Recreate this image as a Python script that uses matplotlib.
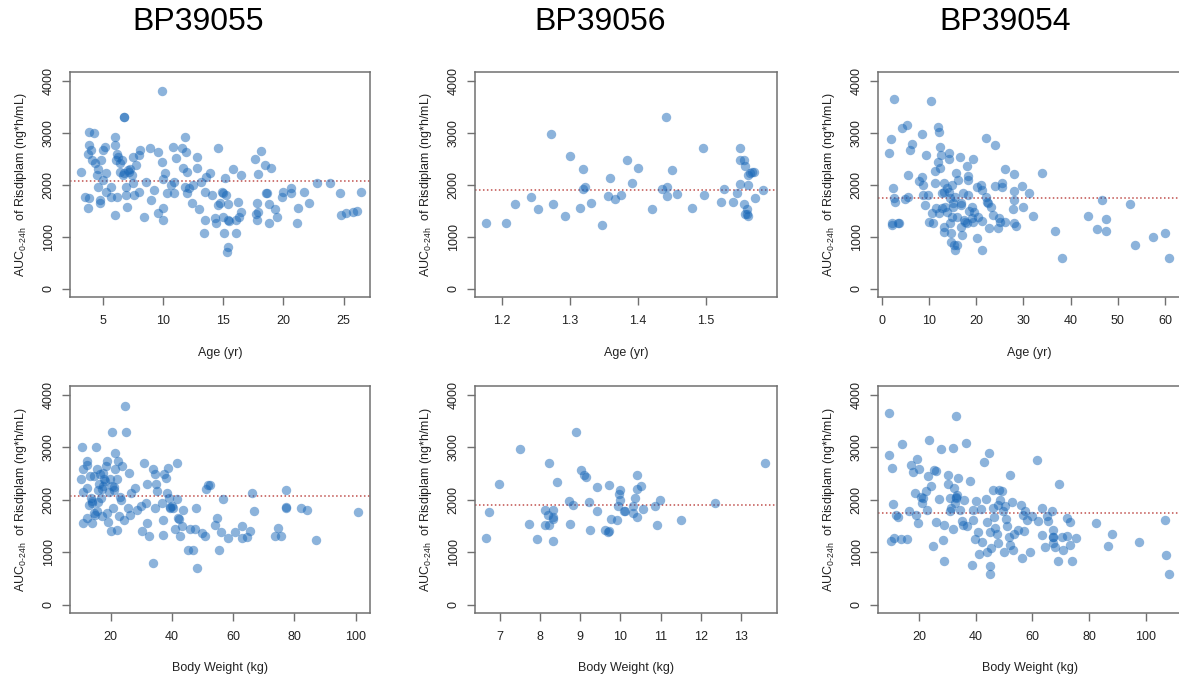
import matplotlib; matplotlib.use('Agg')
import matplotlib.pyplot as plt
plt.rcParams['font.family']=['Liberation Sans','DejaVu Sans']
plt.rcParams['mathtext.fontset']='custom'; plt.rcParams['mathtext.rm']='Liberation Sans'

studies=['BP39055','BP39056','BP39054']
ref_auc=[2070,1905,1740]
# BP39055 - age
age55=[3.2,3.5,3.9,3.8,3.9,4.3,3.9,4.0,3.8,4.1,4.4,4.5,4.6,4.6,4.8,4.8,4.9,5.05,5.2,5.0,5.3,5.3,5.7,5.7,6.0,6.0,6.0,6.1,6.2,6.2,6.3,6.4,6.4,6.6,6.7,6.8,6.8,6.8,6.9,6.9,7.0,7.1,7.2,7.3,7.4,7.5,7.5,7.6,7.8,8.0,8.1,8.0,8.4,8.6,8.9,9.0,9.3,9.6,9.6,9.9,9.95,10.0,10.0,10.0,10.2,10.3,10.8,10.7,10.9,10.9,11.1,11.6,11.7,11.8,11.8,12.0,11.9,12.0,12.2,12.4,12.5,12.8,12.8,13.0,13.2,13.4,13.5,13.5,13.55,13.9,14.1,14.3,14.4,14.6,14.6,14.7,14.9,15.0,15.0,15.1,15.15,15.2,15.3,15.4,15.4,15.4,15.45,15.8,16.1,16.1,16.2,16.3,16.45,16.5,17.6,17.7,17.8,17.8,17.9,17.9,18.1,18.5,18.55,18.6,18.8,18.8,18.95,19.3,19.5,19.85,20.0,20.6,20.6,21.1,21.2,21.7,22.1,22.8,23.9,24.7,24.75,25.2,25.75,26.1,26.4]
auc55a=[2250,1770,1750,1560,3020,3000,2760,2670,2600,2470,2410,2190,2310,1960,1700,1640,2470,2670,2730,2090,2220,1865,1770,1960,2910,2760,1417,2470,1770,2600,2540,2410,2250,2470,2190,2220,3310,3300,1960,1800,1580,2280,2250,2310,2190,2540,2025,1800,2380,2570,2670,1865,1385,2060,2700,1700,1900,1450,2635,3810,2440,1545,1320,2120,2220,1833,2730,1995,2060,1833,2506,2700,2314,2923,1960,2250,2635,1833,1930,1641,1995,2538,2314,1532,2058,1064,1865,1320,2154,2218,1801,1352,1270,1609,2700,1641,1865,1833,1385,1077,2122,1801,711,808,1628,1320,1310,2301,1320,1064,1673,1385,1481,2186,2487,1436,1641,1320,1481,2205,2647,2378,1833,1840,1628,1256,2314,1526,1385,1769,1852,1930,1833,1270,1545,1852,1654,2026,2038,1846,1417,1449,1468,1500,1852]
# BP39055 - body weight
wt55=[10.3,10.5,10.9,11.1,11.1,12.2,12.4,12.4,12.2,13.3,13.5,13.8,13.9,14.7,14.9,15.1,15.4,15.6,16.0,16.5,16.7,17.1,17.4,17.6,17.9,18.5,18.7,18.9,19.2,19.8,20.0,20.3,20.4,20.9,21.2,21.4,21.4,22.0,22.0,22.5,22.6,23.3,23.8,24.5,24.7,25.0,25.5,26.1,26.3,26.5,27.9,28.5,29.8,30.1,31.0,31.4,31.8,31.8,32.4,33.9,33.7,34.5,34.5,34.8,35.2,36.6,37.0,37.2,37.4,38.1,38.3,38.8,39.2,39.4,39.5,39.9,40.5,41.0,41.5,41.8,42.1,42.3,42.6,43.2,43.5,45.4,45.9,47.0,47.5,47.9,48.1,49.7,50.8,51.0,51.9,52.4,54.1,54.6,55.5,55.9,56.8,58.4,60.6,62.8,62.8,64.4,65.5,66.0,66.8,73.6,74.5,75.6,77.1,77.1,77.2,82.1,84.0,87.0,100.8,14.5,15.8,16.3,17.0,18.0,19.5,21.0,23.0,14.0,13.0]
auc55w=[2400,3000,2580,2144,1555,2740,2656,2227,1651,2451,2035,1939,1555,2451,1715,3008,2579,1779,2195,2483,2035,1683,2259,2515,2387,2643,1747,2739,1574,2387,1395,3296,2259,1843,2195,2899,2579,2387,1414,2739,1683,2003,2643,1619,3795,3296,1843,2515,1715,2131,2227,1811,1888,1395,2707,1939,1555,2310,1318,2579,800,2483,1843,2310,2163,1939,1619,1331,2483,2419,2131,2611,2035,1843,1860,1875,1843,1440,2022,2707,1651,1640,1312,1491,1798,1043,1440,1043,1440,1843,704,1363,1312,2208,2291,2291,1510,1651,1043,1376,2016,1267,1376,1491,1267,1299,1395,2131,1792,1312,1459,1312,2195,1843,1860,1843,1811,1235,1760,1750,1950,2300,2200,2350,2150,2250,2050,1980,1900]
# BP39056 - age
age56=[1.177,1.207,1.219,1.243,1.254,1.273,1.276,1.293,1.301,1.315,1.320,1.320,1.323,1.331,1.347,1.356,1.359,1.367,1.375,1.384,1.392,1.400,1.420,1.436,1.441,1.442,1.442,1.450,1.458,1.480,1.496,1.497,1.522,1.526,1.540,1.546,1.549,1.549,1.549,1.555,1.555,1.557,1.557,1.560,1.560,1.561,1.562,1.562,1.565,1.567,1.570,1.571,1.584]
auc56a=[1269,1256,1628,1756,1526,2968,1628,1404,2558,1545,2295,1910,1949,1641,1231,1788,2122,1718,1801,2474,2038,2314,1532,1917,3308,1961,1788,2282,1814,1545,2699,1801,1673,1910,1673,1833,2699,2474,2006,2474,1628,2359,1436,1436,1526,1397,2186,1994,2218,2237,2250,1737,1897]
# BP39056 - body weight
wt56=[6.65,6.73,6.98,7.50,7.73,7.92,8.22,8.13,8.19,8.11,8.22,8.32,8.32,8.33,8.32,8.42,8.72,8.75,8.82,8.88,9.02,9.08,9.13,9.22,9.23,9.42,9.42,9.61,9.71,9.70,9.72,9.77,9.92,9.93,9.96,10.0,10.0,10.1,10.11,10.31,10.31,10.36,10.4,10.42,10.42,10.52,10.55,10.87,10.92,10.98,11.5,12.35,13.6]
auc56w=[1267,1760,2310,2963,1542,1248,2694,1811,1715,1510,1517,1811,1664,1632,1222,2342,1971,1536,1907,3296,2560,2464,2438,1952,1427,1792,2240,1427,1395,1390,2278,1632,1619,1888,2118,2195,2003,1792,1795,1888,1747,2035,2464,2214,1664,2272,1824,1888,1510,1990,1619,1939,2694]
# BP39054 - age
age54=[1.55,1.98,2.1,2.1,2.47,2.54,2.6,2.8,3.5,3.7,4.2,4.9,5.3,5.6,5.6,6.1,6.35,7.8,8.5,8.6,8.8,8.7,9.2,9.4,9.9,10.1,10.4,10.6,10.9,11.2,11.3,11.5,11.9,12.0,12.1,12.2,12.35,12.35,12.5,12.7,12.7,13.1,13.1,13.2,13.4,13.3,13.8,13.9,14.25,14.3,14.3,14.5,14.5,14.6,14.6,14.8,15.0,15.2,15.2,15.4,15.5,15.6,15.7,15.9,16.0,16.2,16.6,16.7,16.9,16.9,17.1,17.3,17.4,17.6,18.0,18.1,18.3,18.35,18.35,18.5,19.3,19.1,19.1,19.3,19.6,20.1,20.25,20.5,21.0,21.2,21.2,21.2,22.2,22.2,22.4,22.6,22.7,23.1,23.5,23.9,24.1,24.7,24.9,25.0,25.5,25.5,26.1,26.1,28.0,28.0,28.0,27.9,28.1,28.4,29.8,30.0,31.1,32.0,33.9,36.8,38.1,43.8,45.7,46.7,47.6,47.6,52.6,53.6,57.4,60.1,60.8]
auc54a=[2615,2872,1269,1224,1929,3660,1737,1660,1256,1256,3083,1718,3147,2186,1769,2667,2782,2077,2974,2154,1994,1801,1609,2570,1801,1288,3615,1449,1256,2263,2026,1545,2442,3102,1462,3019,2718,2314,2570,1833,1545,2026,1192,1865,1577,1083,1929,1481,2603,2487,1865,1737,1256,1064,904,1385,1994,1641,1577,840,1769,744,2231,1385,840,2090,2538,1609,1641,1192,1032,1833,1320,1288,2359,1256,2167,2090,1801,1500,2487,1577,1352,1288,1481,1961,968,1385,1994,1897,1301,744,1769,2891,1673,1641,1160,1577,1417,2763,1974,1160,1352,1288,2038,1961,2301,1288,2199,1878,1705,1532,1269,1211,1974,1564,1833,1397,2218,1115,583,1397,1141,1705,1346,1115,1622,840,1000,1064,583]
# BP39054 - body weight
wt54=[9.4,9.4,10.0,10.3,10.8,11.0,11.7,12.3,13.5,13.9,15.5,16.4,16.9,17.9,18.5,18.7,19.1,19.4,20.0,20.5,20.8,21.2,22.2,22.6,22.9,23.5,24.1,25.0,25.3,25.8,25.9,26.8,27.5,28.5,28.8,28.8,30.0,30.0,30.8,30.8,31.2,32.0,32.0,32.4,32.6,32.9,33.0,33.2,33.0,33.8,34.4,35.0,35.6,35.9,36.4,36.7,37.9,38.5,38.9,39.1,39.7,40.0,40.9,41.2,41.8,42.3,43.0,43.5,43.8,44.1,44.8,45.0,45.0,45.0,45.4,46.2,46.2,46.4,46.8,47.4,47.7,47.9,48.3,48.5,49.1,49.5,50.0,50.3,50.7,50.9,51.7,52.1,52.1,52.7,53.0,53.6,54.8,55.9,56.4,56.8,57.0,57.4,58.2,59.2,59.7,61.5,62.1,63.3,63.3,64.5,65.0,65.4,66.8,67.1,67.2,67.4,67.4,68.0,69.2,69.5,70.4,70.7,72.1,72.1,73.1,73.3,74.1,75.3,82.5,86.6,88.0,97.8,106.9,107.3,108.3]
auc54w=[3648,2848,1216,2611,1926,1280,1715,1664,1248,3072,1248,1779,2656,2528,2131,1715,2771,1555,2592,2048,1939,2035,2176,1798,2451,3136,2259,1120,2566,2547,1574,2016,2963,1235,1510,838,2464,2304,2035,1792,1843,2995,1446,2227,1939,2035,2060,2099,3590,2406,1811,1587,1523,2003,3091,1491,2355,755,1619,1811,1248,1971,1376,966,1824,1203,2720,2022,1574,1011,2886,1376,742,582,1075,2195,1843,1664,1459,1344,1907,1171,2195,2003,2163,1779,1011,1888,1632,1504,1299,2470,1139,1952,1043,1350,1414,1907,896,1715,1395,1779,1619,1011,1683,2758,1587,1843,1331,1107,1683,1587,1779,1299,1290,1427,1171,1107,832,2304,1299,1043,1312,1651,1568,1139,832,1280,1555,1126,1350,1190,1619,947,582]

xs_top=[age55,age56,age54]; ys_top=[auc55a,auc56a,auc54a]
xs_bot=[wt55,wt56,wt54]; ys_bot=[auc55w,auc56w,auc54w]
xt_top=[[5,10,15,20,25],[1.2,1.3,1.4,1.5],[0,10,20,30,40,50,60]]
xt_bot=[[20,40,60,80,100],[7,8,9,10,11,12,13],[20,40,60,80,100]]
xl_top=[(2.29,27.18),(1.161,1.604),(-0.78,63.4)]
xl_bot=[(6.7,104.7),(6.375,13.9),(5.4,112.5)]

W,H=1179,677
fig=plt.figure(figsize=(W/100,H/100),dpi=100)
lefts=[70,475,878]; widths=[300,302,303]
tops=[(72,297),(386,613)]
ylab=r'AUC$_{\mathregular{0\text{-}24h}}$  of Risdiplam (ng*h/mL)'
gray='#707070'
for r,(xs,ys,xts,xls,xlab) in enumerate([(xs_top,ys_top,xt_top,xl_top,'Age (yr)'),(xs_bot,ys_bot,xt_bot,xl_bot,'Body Weight (kg)')]):
    t,b=tops[r]
    for c in range(3):
        ax=fig.add_axes([lefts[c]/W,(H-b)/H,widths[c]/W,(b-t)/H])
        ax.scatter(xs[c],ys[c],s=46,color='#1a68b8',alpha=0.5,lw=0,zorder=2)
        ax.axhline(ref_auc[c],color='#c0504d',lw=1.1,ls=(0,(1,1.6)),zorder=1)
        ax.set_xlim(*xls[c]); ax.set_ylim(-160,4170)
        ax.set_xticks(xts[c]); ax.set_xticklabels([str(v) for v in xts[c]])
        ax.set_yticks([0,1000,2000,3000,4000])
        for lab in ax.get_yticklabels(): lab.set_rotation(90); lab.set_va('center')
        ax.tick_params(direction='out',length=6,width=1,color=gray,labelsize=9,labelcolor='#222222',pad=5)
        ax.tick_params(axis='x',pad=7)
        for sp in ax.spines.values(): sp.set_color(gray); sp.set_linewidth(1.1)
        ax.set_xlabel(xlab,fontsize=9,color='#222222',labelpad=14)
        ax.set_ylabel(ylab,fontsize=9,color='#222222',labelpad=10)
for c,(s,xc) in enumerate(zip(studies,[198,600,1005])):
    fig.text(xc/W,1-22/H,s,ha='center',va='center',fontsize=23)
fig.savefig('out.png',dpi=100)
